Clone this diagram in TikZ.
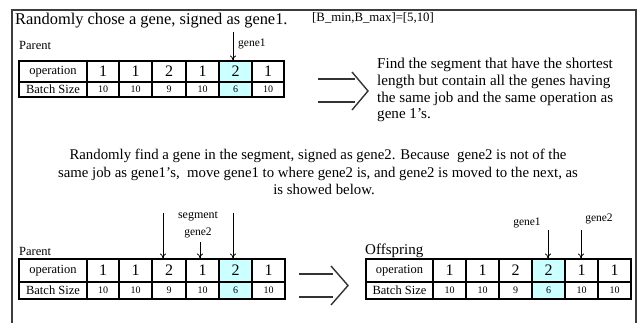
\documentclass[tikz,border=0pt]{standalone}
\usepackage{fontspec}
\setmainfont{Liberation Serif}
\usetikzlibrary{arrows.meta}
\definecolor{hl}{RGB}{204,255,255}
\definecolor{frame}{RGB}{60,60,60}
\begin{document}
\begin{tikzpicture}[x=1pt,y=-1pt,
  txt/.style={inner sep=0pt, anchor=base west, font=\fontsize{15.1}{17}\selectfont},
  mid/.style={inner sep=0pt, anchor=base, font=\fontsize{14.8}{17}\selectfont},
  small/.style={inner sep=0pt, anchor=base west, font=\fontsize{12.5}{14}\selectfont},
  tiny/.style={inner sep=0pt, anchor=base, font=\fontsize{11}{12}\selectfont},
  opcell/.style={draw, line width=1.1pt, inner sep=0pt, font=\fontsize{16}{16}\selectfont},
  bscell/.style={draw, line width=1.1pt, inner sep=0pt, font=\fontsize{10}{10}\selectfont},
  lblcell/.style={draw, line width=1.1pt, inner sep=0pt, font=\fontsize{12.5}{12}\selectfont},
  outer/.style={draw, line width=1.6pt},
  darr/.style={line width=1.4pt, black!80},
  pick/.style={-{To[length=5pt,width=6pt]}, line width=0.8pt}
]
\useasboundingbox (0,0) rectangle (639,323);
% frame
\draw[frame, line width=1.8pt] (12,323) -- (12,10) -- (636,10) -- (636,323);

% ---------- top text
\node[txt, font=\fontsize{16.4}{18}\selectfont] (t1) at (15,25) {Randomly chose a gene, signed as gene1.};
\node[small] (par1) at (19,50) {Parent};
\node[small, font=\fontsize{12.8}{14}\selectfont] (bm) at (312,22) {[B\_min,B\_max]=[5,10]};

% ---------- top table
\fill[hl] (219,61) rectangle (252,97);
\node[lblcell, minimum width=68pt, minimum height=21pt] (A0op) at (53,71.5) {operation};
\node[lblcell, minimum width=68pt, minimum height=15pt] (A0bs) at (53,89.5) {Batch Size};
\foreach \i/\xa/\xb/\op/\bs in {1/87/119/1/10, 2/119/152/1/10, 3/152/186/2/9, 4/186/219/1/10, 5/219/252/2/6, 6/252/284/1/10} {
  \node[opcell, minimum width={(\xb-\xa)*1pt}, minimum height=21pt] (Aop\i) at ({(\xa+\xb)/2},71.5) {\op};
  \node[bscell, minimum width={(\xb-\xa)*1pt}, minimum height=15pt] (Abs\i) at ({(\xa+\xb)/2},89.5) {\bs};
}
\draw[outer] (19,61) rectangle (284,97);
\coordinate (g1top) at (233,32);
\draw[pick] (g1top) -- (Aop5.north -| g1top);
\node[small, font=\fontsize{11.5}{12}\selectfont] (g1lbl) at (238,47) {gene1};

% ---------- top double arrow
\draw[darr] (318,79) -- (355,79);
\draw[darr] (318,102) -- (355,102);
\draw[darr, line join=miter] (352,72) -- (368,91) -- (352,110);

% right paragraph
\node[txt] (p1) at (377,69) {Find the segment that have the shortest};
\node[txt] (p2) at (377,86) {length but contain all the genes having};
\node[txt] (p3) at (377,102.5) {the same job and the same operation as};
\node[txt] (p4) at (377,119) {gene 1's.};

% middle paragraph
\node[mid] (m1) at (318,160) {Randomly find a gene in the segment, signed as gene2. Because\ \ gene2 is not of the};
\node[mid] (m2) at (318,177) {same job as gene1's,\ \ move gene1 to where gene2 is, and gene2 is moved to the next, as};
\node[mid] (m3) at (324,194) {is showed below.};

% ---------- bottom left table
\node[small] (par2) at (19,255) {Parent};
\fill[hl] (219,259) rectangle (252,299);
\node[lblcell, minimum width=68pt, minimum height=23pt] (B0op) at (53,270.5) {operation};
\node[lblcell, minimum width=68pt, minimum height=17pt] (B0bs) at (53,290.5) {Batch Size};
\foreach \i/\xa/\xb/\op/\bs in {1/87/119/1/10, 2/119/152/1/10, 3/152/186/2/9, 4/186/219/1/10, 5/219/252/2/6, 6/252/285/1/10} {
  \node[opcell, minimum width={(\xb-\xa)*1pt}, minimum height=23pt] (Bop\i) at ({(\xa+\xb)/2},270.5) {\op};
  \node[bscell, minimum width={(\xb-\xa)*1pt}, minimum height=17pt] (Bbs\i) at ({(\xa+\xb)/2},290.5) {\bs};
}
\draw[outer] (19,259) rectangle (285,299);
\coordinate (s1) at (163,213);
\coordinate (s2) at (233,213);
\coordinate (g2b) at (200,242);
\draw[pick] (s1) -- (Bop3.north -| s1);
\draw[pick] (s2) -- (Bop5.north -| s2);
\draw[pick] (g2b) -- (Bop4.north -| g2b);
\node[tiny, font=\fontsize{12}{12}\selectfont] (seg) at (198,218) {segment};
\node[tiny, font=\fontsize{11.5}{12}\selectfont] (g2lbl) at (198,235) {gene2};

% ---------- bottom double arrow
\draw[darr] (299,274) -- (333,274);
\draw[darr] (299,297) -- (333,297);
\draw[darr, line join=miter] (331,266) -- (348,285.5) -- (331,305);

% ---------- offspring table
\node[small, font=\fontsize{15}{16}\selectfont] (off) at (365,254) {Offspring};
\fill[hl] (532,259) rectangle (565,299);
\node[lblcell, minimum width=67pt, minimum height=23pt] (C0op) at (399.5,270.5) {operation};
\node[lblcell, minimum width=67pt, minimum height=17pt] (C0bs) at (399.5,290.5) {Batch Size};
\foreach \i/\xa/\xb/\op/\bs in {1/433/466/1/10, 2/466/499/1/10, 3/499/532/2/9, 4/532/565/2/6, 5/565/598/1/10, 6/598/631/1/10} {
  \node[opcell, minimum width={(\xb-\xa)*1pt}, minimum height=23pt] (Cop\i) at ({(\xa+\xb)/2},270.5) {\op};
  \node[bscell, minimum width={(\xb-\xa)*1pt}, minimum height=17pt] (Cbs\i) at ({(\xa+\xb)/2},290.5) {\bs};
}
\draw[outer] (366,259) rectangle (631,299);
\coordinate (o1) at (548,230);
\coordinate (o2) at (581,230);
\draw[pick] (o1) -- (Cop4.north -| o1);
\draw[pick] (o2) -- (Cop5.north -| o2);
\node[tiny, font=\fontsize{11.5}{12}\selectfont] (og1) at (527,225) {gene1};
\node[tiny, font=\fontsize{11.5}{12}\selectfont] (og2) at (599,221) {gene2};
\end{tikzpicture}
\end{document}
